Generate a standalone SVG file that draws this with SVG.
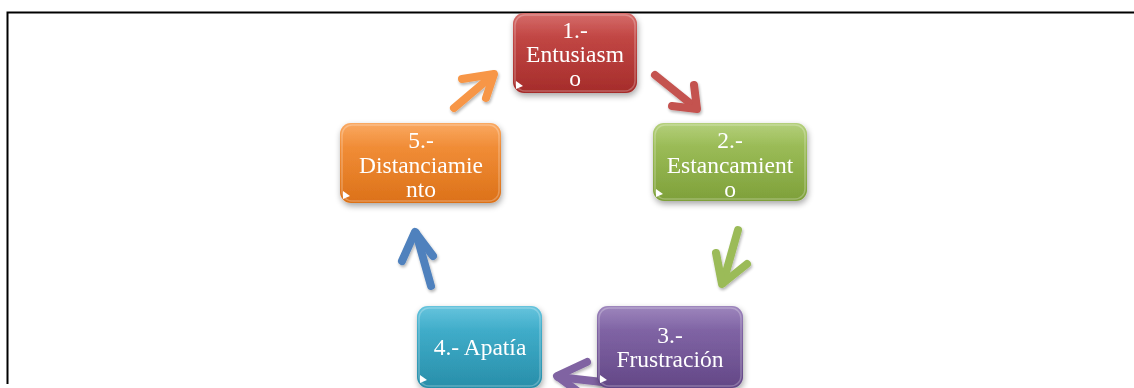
<svg xmlns="http://www.w3.org/2000/svg" width="1134" height="388" viewBox="0 0 1134 388">
<style>
.frame{stroke:#000;stroke-width:2;fill:none}
.lbl{font-family:"Liberation Serif","Times New Roman",serif;font-size:23.5px;fill:#fff;text-anchor:middle}
.arr{fill:none;stroke-width:8;stroke-linecap:round;stroke-linejoin:round;filter:url(#ash)}
.gloss{fill:url(#gl)}
.edge{fill:none;stroke:#fff;stroke-opacity:0.25;stroke-width:1.5}
.tri{fill:#fff}
</style>
<defs>
<filter id="sh" x="-20%" y="-20%" width="140%" height="150%"><feGaussianBlur in="SourceAlpha" stdDeviation="3"/><feOffset dx="1" dy="3"/><feComponentTransfer><feFuncA type="linear" slope="0.35"/></feComponentTransfer><feMerge><feMergeNode/><feMergeNode in="SourceGraphic"/></feMerge></filter>
<filter id="ash" x="-30%" y="-30%" width="160%" height="160%"><feGaussianBlur in="SourceAlpha" stdDeviation="1.5"/><feOffset dx="1" dy="2"/><feComponentTransfer><feFuncA type="linear" slope="0.3"/></feComponentTransfer><feMerge><feMergeNode/><feMergeNode in="SourceGraphic"/></feMerge></filter>
<linearGradient id="gl" x1="0" y1="0" x2="0" y2="1"><stop offset="0" stop-color="#fff" stop-opacity="0.22"/><stop offset="0.3" stop-color="#fff" stop-opacity="0.05"/><stop offset="1" stop-color="#fff" stop-opacity="0"/></linearGradient>
<linearGradient id="gR" x1="0" y1="0" x2="0" y2="1"><stop offset="0" stop-color="#c94441"/><stop offset="1" stop-color="#a52c2a"/></linearGradient>
<linearGradient id="gG" x1="0" y1="0" x2="0" y2="1"><stop offset="0" stop-color="#9fc256"/><stop offset="1" stop-color="#7ea03a"/></linearGradient>
<linearGradient id="gP" x1="0" y1="0" x2="0" y2="1"><stop offset="0" stop-color="#8264aa"/><stop offset="1" stop-color="#634786"/></linearGradient>
<linearGradient id="gC" x1="0" y1="0" x2="0" y2="1"><stop offset="0" stop-color="#3bb3d3"/><stop offset="1" stop-color="#288ea9"/></linearGradient>
<linearGradient id="gO" x1="0" y1="0" x2="0" y2="1"><stop offset="0" stop-color="#f89035"/><stop offset="1" stop-color="#dc7118"/></linearGradient>
</defs>
<rect width="1134" height="388" fill="#fff"/>
<path class="frame" d="M1134 12.5 H7.5 V384"/>
<g id="connectors">
<g stroke="#c4524f" class="arr"><path d="M655 75 L696 108"/><path d="M672 106 L697 109 L694 85"/></g>
<g stroke="#9bbb59" class="arr"><path d="M738 230 L723 283"/><path d="M716 253 L722 284 L747 264"/></g>
<g stroke="#8064a2" class="arr"><path d="M602 382 L558 377"/><path d="M587 362 L557 376 L584 396"/></g>
<g stroke="#4f81bd" class="arr"><path d="M431 286 L416 233"/><path d="M402 261 L415 232 L433 256"/></g>
<g stroke="#f79646" class="arr"><path d="M454 108 L493 75"/><path d="M462 79 L494 74 L486 98"/></g>
</g>
<g id="node1" filter="url(#sh)">
<rect x="513" y="13" width="124" height="80" rx="11" fill="url(#gR)"/>
<rect x="513" y="13" width="124" height="80" rx="11" class="gloss"/>
<rect x="515" y="15" width="120" height="76" rx="10" class="edge"/>
<path class="tri" d="M516 81 L523 86 L516 89 Z"/>
<text class="lbl" x="575" y="38">1.-</text>
<text class="lbl" x="575" y="62">Entusiasm</text>
<text class="lbl" x="575" y="86">o</text>
</g>
<g id="node2" filter="url(#sh)">
<rect x="653" y="123" width="154" height="78" rx="11" fill="url(#gG)"/>
<rect x="653" y="123" width="154" height="78" rx="11" class="gloss"/>
<rect x="655" y="125" width="150" height="74" rx="10" class="edge"/>
<path class="tri" d="M656 189 L663 194 L656 197 Z"/>
<text class="lbl" x="730" y="148">2.-</text>
<text class="lbl" x="730" y="173">Estancamient</text>
<text class="lbl" x="730" y="197">o</text>
</g>
<g id="node3" filter="url(#sh)">
<rect x="597" y="306" width="146" height="82" rx="11" fill="url(#gP)"/>
<rect x="597" y="306" width="146" height="82" rx="11" class="gloss"/>
<rect x="599" y="308" width="142" height="78" rx="10" class="edge"/>
<path class="tri" d="M600 375 L607 380 L600 383 Z"/>
<text class="lbl" x="670" y="343">3.-</text>
<text class="lbl" x="670" y="367">Frustración</text>
</g>
<g id="node4" filter="url(#sh)">
<rect x="417" y="306" width="125" height="82" rx="11" fill="url(#gC)"/>
<rect x="417" y="306" width="125" height="82" rx="11" class="gloss"/>
<rect x="419" y="308" width="121" height="78" rx="10" class="edge"/>
<path class="tri" d="M420 375 L427 380 L420 383 Z"/>
<text class="lbl" x="480" y="355">4.- Apatía</text>
</g>
<g id="node5" filter="url(#sh)">
<rect x="340" y="123" width="161" height="80" rx="11" fill="url(#gO)"/>
<rect x="340" y="123" width="161" height="80" rx="11" class="gloss"/>
<rect x="342" y="125" width="157" height="76" rx="10" class="edge"/>
<path class="tri" d="M343 191 L350 196 L343 199 Z"/>
<text class="lbl" x="421" y="148">5.-</text>
<text class="lbl" x="421" y="173">Distanciamie</text>
<text class="lbl" x="421" y="197">nto</text>
</g>
</svg>
